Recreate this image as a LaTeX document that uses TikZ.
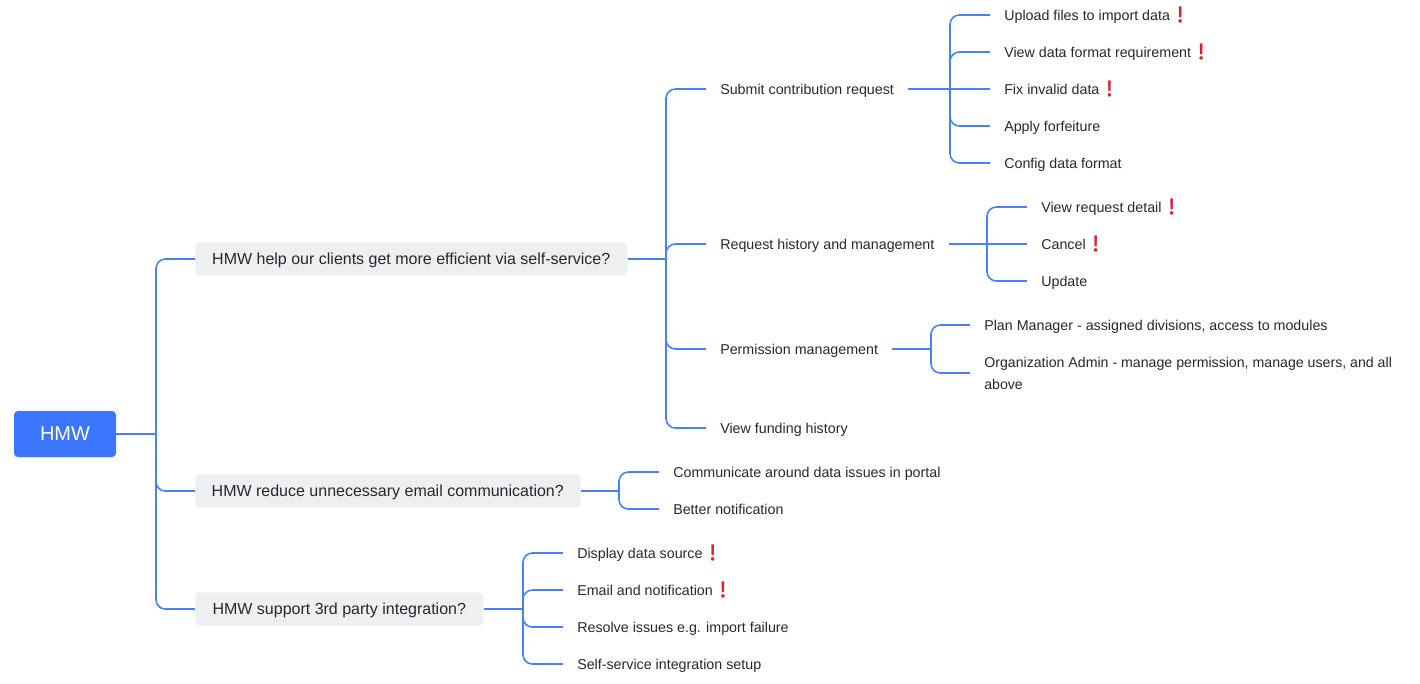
\documentclass[tikz,border=0pt]{standalone}
\usepackage{fontspec}
\setmainfont{Liberation Sans}
\newfontfamily\emojifont{Noto Emoji}
\usetikzlibrary{shadows}
\definecolor{linkblue}{HTML}{4A80F6}
\definecolor{rootblue}{HTML}{3C76FF}
\definecolor{qgrey}{HTML}{EEEFF1}
\definecolor{inkgrey}{HTML}{25282D}
\definecolor{markred}{HTML}{E0202A}
\newcommand{\redmark}{{\emojifont\fontsize{12}{12}\selectfont\textcolor{markred}{❗}}}
\tikzset{
	root/.style={
		% The shape:
		rectangle,rounded corners=3pt,
		% The size:
		minimum width=76.5pt,minimum height=34.5pt,
		% The filling:
		fill=rootblue,text=white,
		drop shadow={shadow xshift=0pt,shadow yshift=-1pt,fill=rootblue!35,opacity=.35},
		font=\fontsize{15}{18}\selectfont,
	}}
\tikzset{
	question/.style={
		% The shape:
		rectangle,rounded corners=3pt,anchor=west,
		% The size:
		minimum height=25pt,inner xsep=11pt,inner ysep=0pt,
		% The filling:
		fill=qgrey,text=inkgrey,
		font=\fontsize{12}{15}\selectfont,
		text height=.85em,text depth=.10em,
	}}
\tikzset{
	leaf/.style={
		anchor=west,inner xsep=10.5pt,inner ysep=2pt,
		text=inkgrey,
		font=\fontsize{10.7}{16.5}\selectfont,
		text height=.86em,text depth=.08em,
	}}
\tikzset{
	leafwrap/.style={
		anchor=west,inner xsep=10.5pt,inner ysep=2pt,
		text=inkgrey,align=left,
		font=\fontsize{10.62}{16.5}\selectfont,
	}}
\tikzset{
	link/.style={draw=linkblue,line width=1.2pt,rounded corners=7pt},
}
\begin{document}
\begin{tikzpicture}[x=.75pt,y=-.75pt]
	\useasboundingbox (0,0) rectangle (1420,683);
	% main level
	\node[root] (hmw) at (65,434) {HMW};
	\node[question,minimum width=324pt] (q1) at (195,259) {HMW help our clients get more efficient via self-service?};
	\node[question,minimum width=288.75pt] (q2) at (195,491) {HMW reduce unnecessary email communication?};
	\node[question,minimum width=216pt] (q3) at (195,609) {HMW support 3rd party integration?};
	% first question
	\node[leaf] (submit) at (706,89) {Submit contribution request};
	\node[leaf] (history) at (706,244) {Request history and management};
	\node[leaf] (perm) at (706,349) {Permission management};
	\node[leaf] (funding) at (706,428) {View funding history};
	\node[leaf] (upload) at (990,15) {Upload files to import data\redmark};
	\node[leaf] (format) at (990,52) {View data format requirement\redmark};
	\node[leaf] (fix) at (990,89) {Fix invalid data\redmark};
	\node[leaf] (forfeit) at (990,126) {Apply forfeiture};
	\node[leaf] (config) at (990,163) {Config data format};
	\node[leaf] (detail) at (1027,207) {View request detail\redmark};
	\node[leaf] (cancel) at (1027,244) {Cancel\redmark};
	\node[leaf] (update) at (1027,281) {Update};
	\node[leaf] (planmgr) at (970,325) {Plan Manager - assigned divisions, access to modules};
	\node[leafwrap] (orgadmin) at (970,373) {Organization Admin - manage permission, manage users, and all\\above};
	% second question
	\node[leaf] (portal) at (659,472) {Communicate around data issues in portal};
	\node[leaf] (notify) at (659,509) {Better notification};
	% third question
	\node[leaf] (source) at (563,553) {Display data source\redmark};
	\node[leaf] (email) at (563,590) {Email and notification\redmark};
	\node[leaf] (resolve) at (563,627) {Resolve issues e.g. import failure};
	\node[leaf] (setup) at (563,664) {Self-service integration setup};
	% forks
	\coordinate (f0) at (156,434);
	\coordinate (f1) at (666,259);
	\coordinate (f2) at (619,491);
	\coordinate (f3) at (523,609);
	\coordinate (f4) at (950,89);
	\coordinate (f5) at (987,244);
	\coordinate (f6) at (931,349);
	% connectors
	\draw[link] (hmw.east) -- (f0);
	\draw[link] (f0) |- (q1.west);
	\draw[link] (f0) |- (q2.west);
	\draw[link] (f0) |- (q3.west);
	\draw[link] (q1.east) -- (f1);
	\draw[link] (f1) |- (submit.west);
	\draw[link] (f1) |- (history.west);
	\draw[link] (f1) |- (perm.west);
	\draw[link] (f1) |- (funding.west);
	\draw[link] (submit.east) -- (f4);
	\draw[link] (f4) |- (upload.west);
	\draw[link] (f4) |- (format.west);
	\draw[link] (f4) -- (fix.west);
	\draw[link] (f4) |- (forfeit.west);
	\draw[link] (f4) |- (config.west);
	\draw[link] (history.east) -- (f5);
	\draw[link] (f5) |- (detail.west);
	\draw[link] (f5) -- (cancel.west);
	\draw[link] (f5) |- (update.west);
	\draw[link] (perm.east) -- (f6);
	\draw[link] (f6) |- (planmgr.west);
	\draw[link] (f6) |- (orgadmin.west);
	\draw[link] (q2.east) -- (f2);
	\draw[link] (f2) |- (portal.west);
	\draw[link] (f2) |- (notify.west);
	\draw[link] (q3.east) -- (f3);
	\draw[link] (f3) |- (source.west);
	\draw[link] (f3) |- (email.west);
	\draw[link] (f3) |- (resolve.west);
	\draw[link] (f3) |- (setup.west);
\end{tikzpicture}
\end{document}
